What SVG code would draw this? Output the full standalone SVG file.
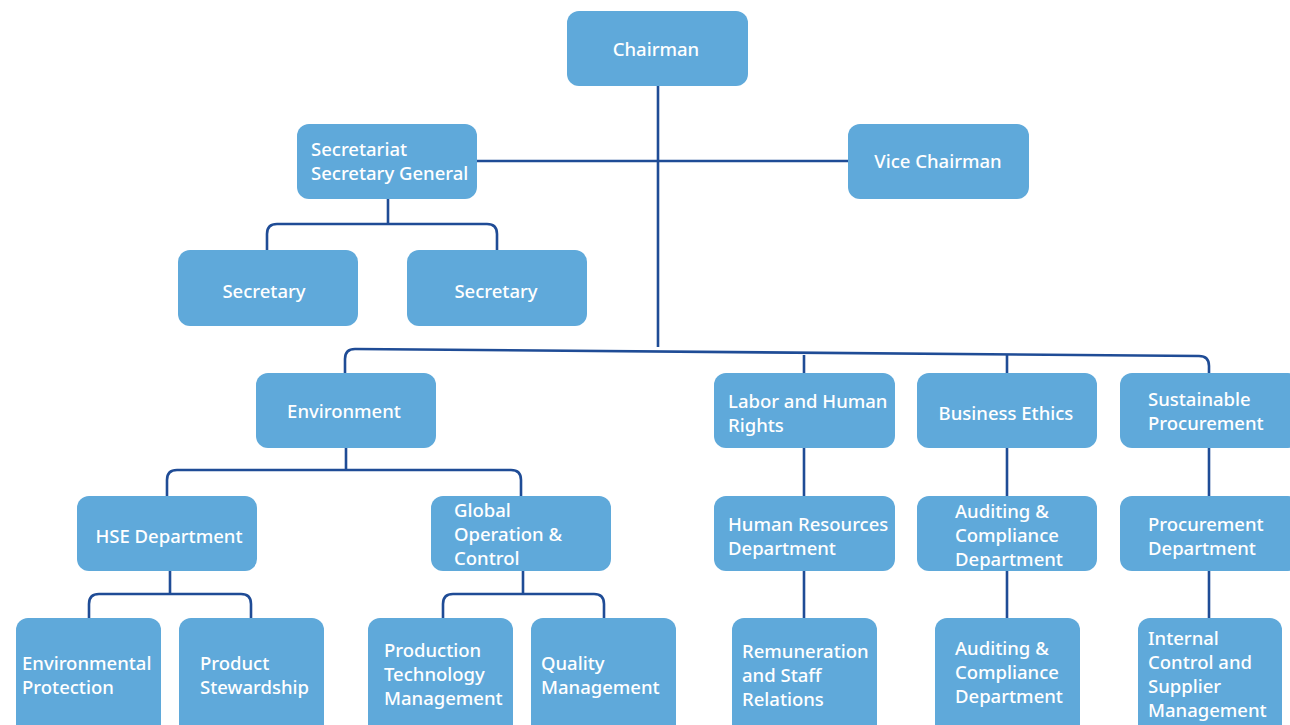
<svg xmlns="http://www.w3.org/2000/svg" width="1290" height="725" viewBox="0 0 1290 725">
<style>
.b{fill:#5FA9DA;}
.t{font-family:"Noto Sans","Open Sans",sans-serif;font-size:18.5px;font-weight:500;fill:#ffffff;}
.c{text-anchor:middle;}
.l{fill:none;stroke:#1F4C96;stroke-width:2.6;}
</style>
<rect width="1290" height="725" fill="#ffffff"/>
<g id="connectors">
<path class="l" d="M658 86V347"/>
<path class="l" d="M477 161H848"/>
<path class="l" d="M388 199V224M267 250V234Q267 224 277 224H487Q497 224 497 234V250"/>
<path class="l" d="M345 373V359Q345 349 355 349L1199 356Q1209 356 1209 366V373"/>
<path class="l" d="M804 355V373M1007 355V373"/>
<path class="l" d="M346 448V470M167 496V480Q167 470 177 470H511Q521 470 521 480V496"/>
<path class="l" d="M170 571V594M89 618V604Q89 594 99 594H241Q251 594 251 604V618"/>
<path class="l" d="M523 571V594M443 618V604Q443 594 453 594H594Q604 594 604 604V618"/>
<path class="l" d="M804 448V496M804 571V618"/>
<path class="l" d="M1007 448V496M1007 571V618"/>
<path class="l" d="M1209 448V496M1209 571V618"/>
</g>
<g id="chairman"><rect class="b" x="567" y="11" width="181" height="75" rx="12"/><text class="t c" x="656" y="56">Chairman</text></g>
<g id="secretariat"><rect class="b" x="297" y="124" width="180" height="75" rx="12"/><text class="t" x="311" y="156">Secretariat</text><text class="t" x="311" y="180">Secretary General</text></g>
<g id="vice"><rect class="b" x="848" y="124" width="181" height="75" rx="12"/><text class="t c" x="938" y="168">Vice Chairman</text></g>
<g id="secretary1"><rect class="b" x="178" y="250" width="180" height="76" rx="12"/><text class="t c" x="264" y="298">Secretary</text></g>
<g id="secretary2"><rect class="b" x="407" y="250" width="180" height="76" rx="12"/><text class="t c" x="496" y="298">Secretary</text></g>
<g id="environment"><rect class="b" x="256" y="373" width="180" height="75" rx="12"/><text class="t c" x="344" y="418">Environment</text></g>
<g id="labor"><rect class="b" x="714" y="373" width="181" height="75" rx="12"/><text class="t" x="728" y="408">Labor and Human</text><text class="t" x="728" y="432">Rights</text></g>
<g id="ethics"><rect class="b" x="917" y="373" width="180" height="75" rx="12"/><text class="t c" x="1006" y="420">Business Ethics</text></g>
<g id="sustainable"><rect class="b" x="1120" y="373" width="180" height="75" rx="12"/><text class="t" x="1148" y="406">Sustainable</text><text class="t" x="1148" y="430">Procurement</text></g>
<g id="hse"><rect class="b" x="77" y="496" width="180" height="75" rx="12"/><text class="t c" x="169" y="543">HSE Department</text></g>
<g id="global"><rect class="b" x="431" y="496" width="180" height="75" rx="12"/><text class="t" x="454" y="517">Global</text><text class="t" x="454" y="541">Operation &amp;</text><text class="t" x="454" y="565">Control</text></g>
<g id="hr"><rect class="b" x="714" y="496" width="181" height="75" rx="12"/><text class="t" x="728" y="531">Human Resources</text><text class="t" x="728" y="555">Department</text></g>
<g id="auditing1"><rect class="b" x="917" y="496" width="180" height="75" rx="12"/><text class="t" x="955" y="518">Auditing &amp;</text><text class="t" x="955" y="542">Compliance</text><text class="t" x="955" y="566">Department</text></g>
<g id="procurement"><rect class="b" x="1120" y="496" width="180" height="75" rx="12"/><text class="t" x="1148" y="531">Procurement</text><text class="t" x="1148" y="555">Department</text></g>
<g id="envprot"><rect class="b" x="16" y="618" width="145" height="120" rx="12"/><text class="t" x="22" y="670">Environmental</text><text class="t" x="22" y="694">Protection</text></g>
<g id="product"><rect class="b" x="179" y="618" width="145" height="120" rx="12"/><text class="t" x="200" y="670">Product</text><text class="t" x="200" y="694">Stewardship</text></g>
<g id="production"><rect class="b" x="368" y="618" width="145" height="120" rx="12"/><text class="t" x="384" y="657">Production</text><text class="t" x="384" y="681">Technology</text><text class="t" x="384" y="705">Management</text></g>
<g id="quality"><rect class="b" x="531" y="618" width="145" height="120" rx="12"/><text class="t" x="541" y="670">Quality</text><text class="t" x="541" y="694">Management</text></g>
<g id="remuneration"><rect class="b" x="732" y="618" width="145" height="120" rx="12"/><text class="t" x="742" y="658">Remuneration</text><text class="t" x="742" y="682">and Staff</text><text class="t" x="742" y="706">Relations</text></g>
<g id="auditing2"><rect class="b" x="935" y="618" width="145" height="120" rx="12"/><text class="t" x="955" y="655">Auditing &amp;</text><text class="t" x="955" y="679">Compliance</text><text class="t" x="955" y="703">Department</text></g>
<g id="internal"><rect class="b" x="1138" y="618" width="144" height="120" rx="12"/><text class="t" x="1148" y="645">Internal</text><text class="t" x="1148" y="669">Control and</text><text class="t" x="1148" y="693">Supplier</text><text class="t" x="1148" y="717">Management</text></g>
</svg>
